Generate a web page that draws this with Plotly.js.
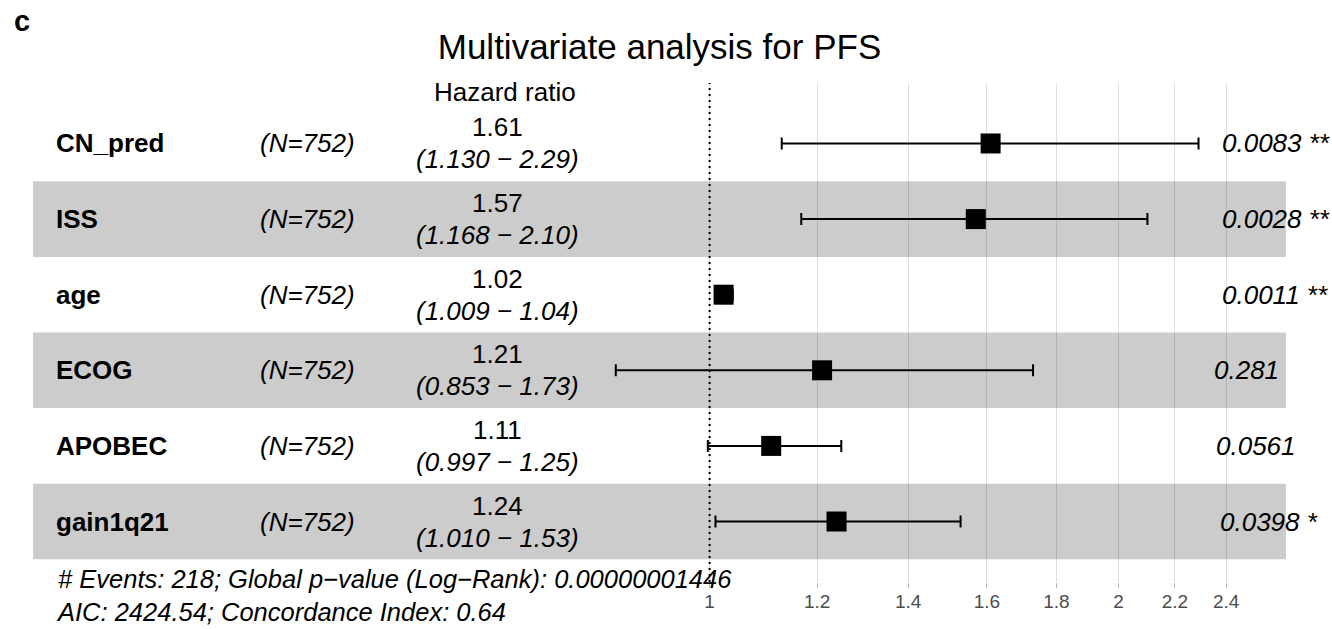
<!DOCTYPE html>
<html><head><meta charset="utf-8">
<script src="https://cdn.plot.ly/plotly-3.0.1.min.js"></script>
<style>html,body{margin:0;padding:0;background:#fff;} #chart{width:1332px;height:629px;}</style>
</head><body><div id="chart"></div>
<script>
// ---- data ----
const variables = ["CN_pred", "ISS", "age", "ECOG", "APOBEC", "gain1q21"];
const nPatients = [752, 752, 752, 752, 752, 752];
const hazardRatio = [1.61, 1.57, 1.024, 1.21, 1.11, 1.24];
const ciLow = [1.130, 1.168, 1.009, 0.853, 0.997, 1.010];
const ciHigh = [2.29, 2.10, 1.04, 1.73, 1.25, 1.53];
const pValues = ["0.0083", "0.0028", "0.0011", "0.281", "0.0561", "0.0398"];
const stars = ["**", "**", "**", "", "", "*"];
const tickValues = [1, 1.2, 1.4, 1.6, 1.8, 2, 2.2, 2.4];
const tickLabels = ["1", "1.2", "1.4", "1.6", "1.8", "2", "2.2", "2.4"];
const nEvents = 218;
const globalP = "0.00000001446";
const aicValue = "2424.54";
const concordance = "0.64";
const titleText = "Multivariate analysis for PFS";
const panelTag = "c";

// ---- geometry derived like survminer::ggforest ----
const FONT = "Liberation Sans, Arial, Helvetica, sans-serif";
const TXT = 26;
const LN10 = Math.LN10;
const lnLo = Math.log(Math.min(...ciLow));
const lnHi = Math.log(Math.max(...ciHigh));
const span = lnHi - lnLo;
const rp = [lnLo - span, lnHi + 0.15 * span];          // natural log
const rp10 = rp.map(v => v / LN10);
const pad = 0.02 * (rp10[1] - rp10[0]);
const xRange = [rp10[0] - pad, rp10[1] + pad];
const colPos = f => (rp[0] + f * (rp[1] - rp[0])) / LN10;   // log10 axis coordinate
const yIdx = variables.map((_, i) => i + 1);
const MINUS = "\u2212";

const canvas = document.createElement("canvas");
const ctx = canvas.getContext("2d");
ctx.font = "italic " + TXT + "px 'Liberation Sans'";

const annotations = [];
const shapes = [];
const txtFont = {family: FONT, size: TXT, color: "#000"};

variables.forEach((v, i) => {
  const y = yIdx[i];
  if (i % 2 === 1) {
    shapes.push({type: "rect", layer: "between", xref: "x", yref: "y",
      x0: Math.exp(rp[0]), x1: Math.exp(rp[1]), y0: y - 0.5, y1: y + 0.5,
      fillcolor: "rgba(0,0,0,0.2)", line: {width: 0}});
  }
  annotations.push({x: colPos(0.017), y: y, xref: "x", yref: "y", text: "<b>" + v + "</b>",
    xanchor: "left", yanchor: "middle", showarrow: false, font: txtFont});
  annotations.push({x: colPos(0.219), y: y, xref: "x", yref: "y", text: "<i>(N=" + nPatients[i] + ")</i>",
    xanchor: "center", yanchor: "middle", showarrow: false, font: txtFont});
  annotations.push({x: colPos(0.371), y: y, xref: "x", yref: "y", text: hazardRatio[i].toFixed(2),
    xanchor: "center", yanchor: "bottom", yshift: 0, borderpad: 0, showarrow: false, font: txtFont});
  annotations.push({x: colPos(0.371), y: y, xref: "x", yref: "y",
    text: "<i>(" + ciLow[i].toFixed(3) + " " + MINUS + " " + ciHigh[i].toFixed(2) + ")</i>",
    xanchor: "center", yanchor: "top", yshift: 0, borderpad: 0, showarrow: false, font: txtFont});
  const ptxt = pValues[i] + (stars[i] ? " " + stars[i] : "");
  const w = ctx.measureText(ptxt).width;
  annotations.push({x: Math.log10(Math.max(...ciHigh)), y: y, xref: "x", yref: "y", text: "<i>" + ptxt + "</i>",
    xanchor: "left", yanchor: "middle", xshift: 0.2 * w, showarrow: false, font: txtFont});
});

annotations.push({x: colPos(0.377), y: 0.5, xref: "x", yref: "y", text: "Hazard ratio",
  xanchor: "center", yanchor: "bottom", yshift: -3, showarrow: false, font: txtFont});

annotations.push({x: colPos(0.017), y: variables.length + 0.5, xref: "x", yref: "y",
  text: "<i># Events: " + nEvents + "; Global p" + MINUS + "value (Log" + MINUS + "Rank): " + globalP +
        "<br>AIC: " + aicValue + "; Concordance Index: " + concordance + "</i>",
  xanchor: "left", yanchor: "top", align: "left", yshift: -4, showarrow: false,
  font: {family: FONT, size: 25.5, color: "#000"}});

annotations.push({x: 0.003, y: 1.125, xref: "paper", yref: "paper", text: "<b>" + panelTag + "</b>",
  xanchor: "left", yanchor: "middle", showarrow: false, font: {family: FONT, size: 29, color: "#000"}});

shapes.push({type: "line", layer: "above", xref: "x", yref: "paper", x0: 1, x1: 1, y0: 0, y1: 1,
  line: {color: "#000", width: 2, dash: "2px,4px"}});

const trace = {
  type: "scatter", mode: "markers", x: hazardRatio, y: yIdx,
  marker: {symbol: "square", size: 20, color: "#000", line: {width: 0}},
  error_x: {type: "data", symmetric: false,
    array: hazardRatio.map((h, i) => ciHigh[i] - h),
    arrayminus: hazardRatio.map((h, i) => h - ciLow[i]),
    color: "#000", thickness: 2, width: 6},
  hoverinfo: "skip", showlegend: false
};

const layout = {
  width: 1332, height: 629,
  margin: {l: 8, r: 21, t: 83, b: 47},
  paper_bgcolor: "#fff", plot_bgcolor: "#fff",
  title: {text: titleText, x: 0.5, xref: "paper", xanchor: "center", y: 1 - 47 / 629, yref: "container",
    yanchor: "middle", font: {family: FONT, size: 35, color: "#000"}},
  xaxis: {type: "log", range: xRange, tickvals: tickValues, ticktext: tickLabels,
    showgrid: true, gridcolor: "#DEDEDE", gridwidth: 1, zeroline: false, showline: false,
    ticks: "outside", ticklen: 5, tickcolor: "#B3B3B3", tickwidth: 1, ticklabelstandoff: -3,
    tickfont: {family: FONT, size: 19, color: "#4D4D4D"}, fixedrange: true},
  yaxis: {range: [variables.length + 0.8, 0.2], showgrid: false, zeroline: false, showline: false,
    showticklabels: false, ticks: "", fixedrange: true},
  shapes: shapes, annotations: annotations, showlegend: false
};

Plotly.newPlot("chart", [trace], layout, {displayModeBar: false, staticPlot: true});
</script>
</body></html>
